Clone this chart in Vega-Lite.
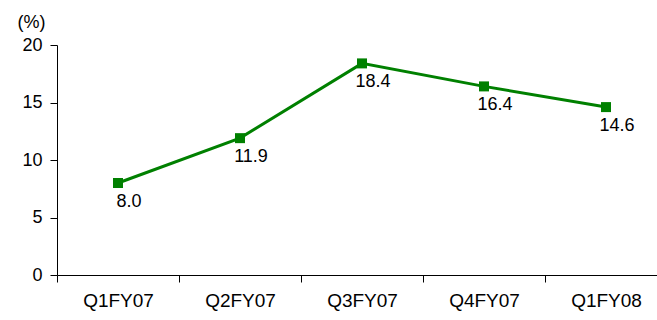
{
  "$schema": "https://vega.github.io/schema/vega-lite/v6.json",
  "autosize": "none",
  "width": 610,
  "height": 230,
  "padding": {"left": 57, "top": 45, "right": 0, "bottom": 45},
  "background": "white",
  "config": {
    "view": {"stroke": null},
    "font": "Liberation Sans",
    "axis": {"grid": false, "domainColor": "black", "tickColor": "black", "labelColor": "black", "labelFont": "Liberation Sans", "labelFontSize": 16, "titleFont": "Liberation Sans"}
  },
  "data": {
    "values": [
      {"q": "Q1FY07", "v": 8.0},
      {"q": "Q2FY07", "v": 11.9},
      {"q": "Q3FY07", "v": 18.4},
      {"q": "Q4FY07", "v": 16.4},
      {"q": "Q1FY08", "v": 14.6}
    ]
  },
  "encoding": {
    "x": {"field": "q", "type": "nominal", "sort": null,
      "scale": {"paddingInner": 0, "paddingOuter": 0},
      "axis": {"title": null, "labelAngle": 0, "tickBand": "extent", "tickSize": 7, "labelPadding": 9, "labelFontSize": 19, "domainWidth": 1}},
    "y": {"field": "v", "type": "quantitative",
      "scale": {"domain": [0, 20], "nice": false},
      "axis": {"values": [0, 5, 10, 15, 20], "tickSize": 7, "labelPadding": 8, "labelFontSize": 18,
        "title": "(%)", "titleAngle": 0, "titleAnchor": "end", "titleAlign": "center", "titleBaseline": "alphabetic", "titleX": -26, "titleY": -18, "titleFontSize": 18, "titleFontWeight": "normal", "titleColor": "black"}}
  },
  "layer": [
    {"mark": {"type": "line", "color": "#008000", "strokeWidth": 3}},
    {"mark": {"type": "point", "shape": "square", "filled": true, "opacity": 1, "color": "#008000", "size": 100}},
    {"mark": {"type": "text", "fontSize": 18, "color": "black", "align": "center", "baseline": "middle", "dx": 11, "dy": 19},
      "encoding": {"text": {"field": "v", "type": "quantitative", "format": ".1f"}}}
  ]
}
